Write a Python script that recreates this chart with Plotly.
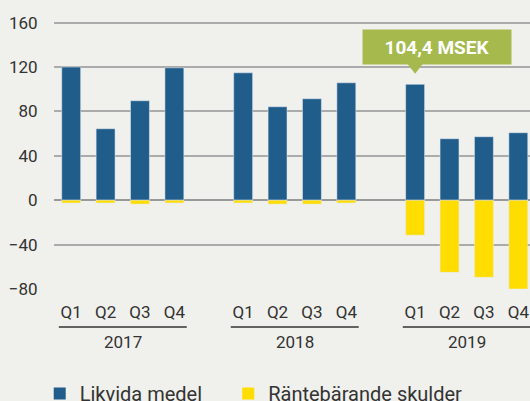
import plotly.graph_objects as go

# Data
years = ['2017', '2018', '2019']
quarters = ['Q1', 'Q2', 'Q3', 'Q4']
likvida_medel = [120.0, 64.4, 89.6, 119.3,
                 114.8, 84.2, 91.4, 105.8,
                 104.4, 55.4, 57.2, 60.8]
rantebarande_skulder = [-2.5, -2.5, -3.5, -2.5,
                        -2.5, -3.5, -3.5, -2.5,
                        -31.5, -65.0, -69.5, -80.0]
highlight_label = '104,4 MSEK'
highlight_index = 8

BLUE = '#215d8a'
YELLOW = '#ffdd00'
GREEN = '#a5b94d'
BG = '#f0f0ec'
TEXT = '#333333'
FONT = 'Roboto'

# one empty slot between years
x = [i * 5 + j for i in range(len(years)) for j in range(len(quarters))]
qlabels = [q for _ in years for q in quarters]

fig = go.Figure()
fig.add_trace(go.Bar(x=x, y=likvida_medel, marker_color=BLUE, width=0.55,
                     name='Likvida medel', showlegend=False))
fig.add_trace(go.Bar(x=x, y=rantebarande_skulder, marker_color=YELLOW, width=0.55,
                     name='Räntebärande skulder', showlegend=False))

# legend entries with bigger squares, one legend each so they can sit apart
for name, col, lg in [('Likvida medel', BLUE, 'legend'), ('Räntebärande skulder', YELLOW, 'legend2')]:
    fig.add_trace(go.Scatter(x=[None], y=[None], mode='markers', name=name, legend=lg,
                             marker=dict(symbol='square', size=16, color=col)))

# callout
hx = x[highlight_index]
hy = likvida_medel[highlight_index]
fig.add_annotation(x=hx + 0.65, y=hy + 17, xref='x', yref='y', text='<b>' + highlight_label + '</b>',
                   showarrow=False, bgcolor=GREEN, font=dict(family=FONT, size=19, color='white'),
                   borderpad=5, width=138, height=24, yanchor='bottom')
fig.add_trace(go.Scatter(x=[hx], y=[hy + 15.5], mode='markers', showlegend=False, hoverinfo='skip',
                         marker=dict(symbol='triangle-down', size=13, color=GREEN), cliponaxis=False))

# year labels with underline
for i, yr in enumerate(years):
    x0 = i * 5 - 0.36
    x1 = i * 5 + 3 + 0.36
    fig.add_shape(type='line', xref='x', yref='paper', x0=x0, x1=x1, y0=-0.134, y1=-0.134,
                  line=dict(color=TEXT, width=1.5))
    fig.add_annotation(x=i * 5 + 1.5, y=-0.187, xref='x', yref='paper', text=yr, showarrow=False,
                       font=dict(family=FONT, size=17, color=TEXT), yanchor='middle')

leg = dict(orientation='h', xanchor='left', y=-0.30, yanchor='top',
           font=dict(size=20), itemsizing='constant', bgcolor='rgba(0,0,0,0)')
fig.update_layout(
    width=530, height=401,
    margin=dict(l=54, r=0, t=6, b=112, autoexpand=False),
    paper_bgcolor=BG, plot_bgcolor=BG,
    barmode='relative',
    font=dict(family=FONT, size=17, color=TEXT),
    legend=dict(leg, x=-0.03),
    legend2=dict(leg, x=0.366),
)
fig.update_xaxes(range=[-0.5, 13.34], tickvals=x, ticktext=qlabels, showgrid=False,
                 zeroline=False, showline=False, ticks='outside', ticklen=8,
                 tickcolor='rgba(0,0,0,0)', tickfont=dict(size=17), automargin=False)
fig.update_yaxes(range=[-80, 175], tickvals=[-80, -40, 0, 40, 80, 120, 160],
                 showgrid=True, gridcolor='#ababab', gridwidth=1.5,
                 zeroline=True, zerolinecolor='#999999', zerolinewidth=2,
                 ticks='outside', ticklen=12, tickcolor='rgba(0,0,0,0)',
                 tickfont=dict(size=17), automargin=False)

fig.write_html('out.html', config={'displayModeBar': False},
               post_script="document.body.style.margin='0';")
